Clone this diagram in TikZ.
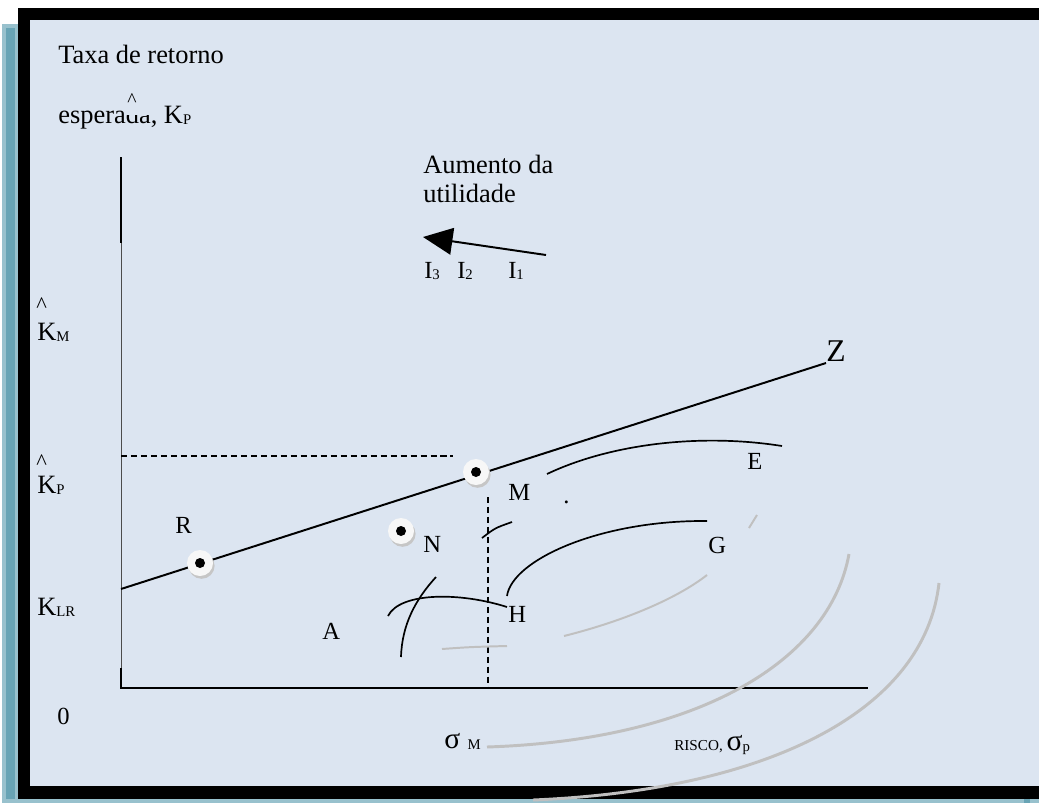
\documentclass[tikz,border=0pt]{standalone}
\usepackage{fontspec}
\setmainfont{Liberation Serif}
\usetikzlibrary{arrows.meta,shadows}

\definecolor{fundo}{RGB}{220,229,241}
\definecolor{tealclaro}{RGB}{152,193,205}
\definecolor{tealescuro}{RGB}{104,164,181}
\definecolor{cinzacurva}{RGB}{192,192,192}

\newcommand\tamtexto{\fontsize{18.8}{22}\selectfont}
\newcommand\tamletra{\fontsize{17.5}{20}\selectfont}
\newcommand\tamsigma{\fontsize{21}{22}\selectfont}
\newcommand\indice[1]{\raisebox{-1pt}{\fontsize{10.5}{11}\selectfont #1}}

\begin{document}
\begin{tikzpicture}[x=0.025cm,y=-0.025cm,
  rotulo/.style={anchor=base west,inner sep=0pt,font=\tamtexto},
  letra/.style={anchor=base west,inner sep=0pt,font=\tamletra},
  chapeu/.style={anchor=base west,inner sep=0pt,font=\fontsize{16}{16}\selectfont},
  carteira/.style={circle,fill=white!94!gray,minimum size=0.65cm,inner sep=0pt,
    drop shadow={shadow xshift=0.04cm,shadow yshift=-0.07cm,fill=gray!45,opacity=1},
    path picture={\fill[black] (path picture bounding box.center) circle (0.125cm);}},
  tracejado/.style={line width=1.3pt,dash pattern=on 4.3pt off 2.8pt},
  curva/.style={line width=1.2pt},
  curvacinza/.style={cinzacurva,line width=1.4pt},
  arco/.style={cinzacurva,line width=2.1pt}]
\useasboundingbox (0,0) rectangle (1039,803);
% moldura
\fill[tealclaro] (2,24) rectangle (1039,803);
\fill[tealescuro] (6,28) rectangle (15,799);
\fill[tealescuro] (1024,799) rectangle (1030,803);
\fill[black] (18,8) rectangle (1039,799);
\fill[fundo] (30,20) rectangle (1039,786);
% titulo do eixo vertical
\node[rotulo] (taxa) at (58,63) {Taxa de retorno};
\node[rotulo] (esperada) at (58,123) {esperada, K\indice{P}};
\fill[fundo] (126,92) rectangle (151,115);
\node[chapeu,font=\fontsize{14}{14}\selectfont] (chapeuKP) at (127,106) {\textasciicircum};
% eixos
\coordinate (topo) at (121,157);
\coordinate (origem) at (121,688);
\coordinate (fimx) at (868,688);
\draw[line width=1.4pt] (topo) -- (121,243);
\draw[gray!60!black,line width=0.7pt] (121,243) -- (121,668);
\draw[line width=1.4pt] (121,668) -- (origem) -- (fimx);
% rotulos do eixo vertical
\node[chapeu] (chapeuKM) at (36,312) {\textasciicircum};
\node[rotulo] (KM) at (37,340) {K\indice{M}};
\node[chapeu] (chapeuP) at (36,469) {\textasciicircum};
\node[rotulo] (KP) at (37,493) {K\indice{P}};
\node[rotulo] (KLR) at (37,615) {K\indice{LR}};
\node[letra] (zero) at (57,724) {0};
% linhas tracejadas
\draw[tracejado] (121,456) -- (453,456);
\draw[tracejado] (488,497) -- (488,688);
% curvas de indiferenca (cinza)
\draw[curvacinza] (442,649) .. controls (470,647) .. (507,646);
\draw[curvacinza] (564,636) .. controls (620,622) and (675,600) .. (707,575);
\draw[curvacinza] (749,528) -- (757,515);
\draw[arco] (849,554) .. controls (830,660) and (700,740) .. (487,747);
\draw[arco] (939,583) .. controls (925,710) and (770,790) .. (533,800);
% fronteira e curvas pretas
\draw[curva] (547,474) .. controls (610,444) and (700,433) .. (782,446);
\draw[curva] (507,596) .. controls (512,560) and (600,520) .. (707,521);
\draw[curva] (482,538) .. controls (495,528) .. (512,522);
\draw[curva] (388,616) .. controls (400,592) and (460,592) .. (507,607);
\draw[curva] (401,657) .. controls (402,625) and (415,600) .. (436,577);
% linha do mercado de capitais
\coordinate (klr) at (121,589);
\coordinate (zfim) at (826,363);
\draw[line width=1.4pt] (klr) -- (zfim);
\node[anchor=base west,inner sep=0pt,font=\fontsize{22.5}{24}\selectfont] (Z) at (826,361) {Z};
% carteiras
\node[carteira] (ptR) at (200,563) {};
\node[carteira] (ptM) at (476,472) {};
\node[carteira] (ptN) at (401,531) {};
\node[letra] (R) at (175,533) {R};
\node[letra] (N) at (423,552) {N};
\node[letra] (M) at (508,500) {M};
\node[letra] (H) at (508,622) {H};
\node[letra] (A) at (322,639) {A};
\node[letra] (E) at (747,469) {E};
\node[letra] (G) at (708,553) {G};
\node[letra] (ponto) at (563,503) {.};
% aumento da utilidade
\node[rotulo] (aumento) at (423,173) {Aumento da};
\node[rotulo] (utilidade) at (423,202) {utilidade};
\coordinate (I1seta) at (546,255);
\coordinate (I3seta) at (423,237);
\draw[line width=1.4pt,-{Triangle[length=21pt,width=19pt]}] (I1seta) -- (I3seta);
\node[letra] (I3) at (424,278) {I\indice{3}};
\node[letra] (I2) at (457,278) {I\indice{2}};
\node[letra] (I1) at (508,278) {I\indice{1}};
% eixo horizontal
\node[letra,font=\tamsigma] (sigmaM) at (444,748) {σ \indice{M}};
\node[anchor=base west,inner sep=0pt] (risco) at (674,750)
  {\fontsize{10.8}{11}\selectfont RISCO, \tamsigma σ\indice{p}};
\end{tikzpicture}
\end{document}
